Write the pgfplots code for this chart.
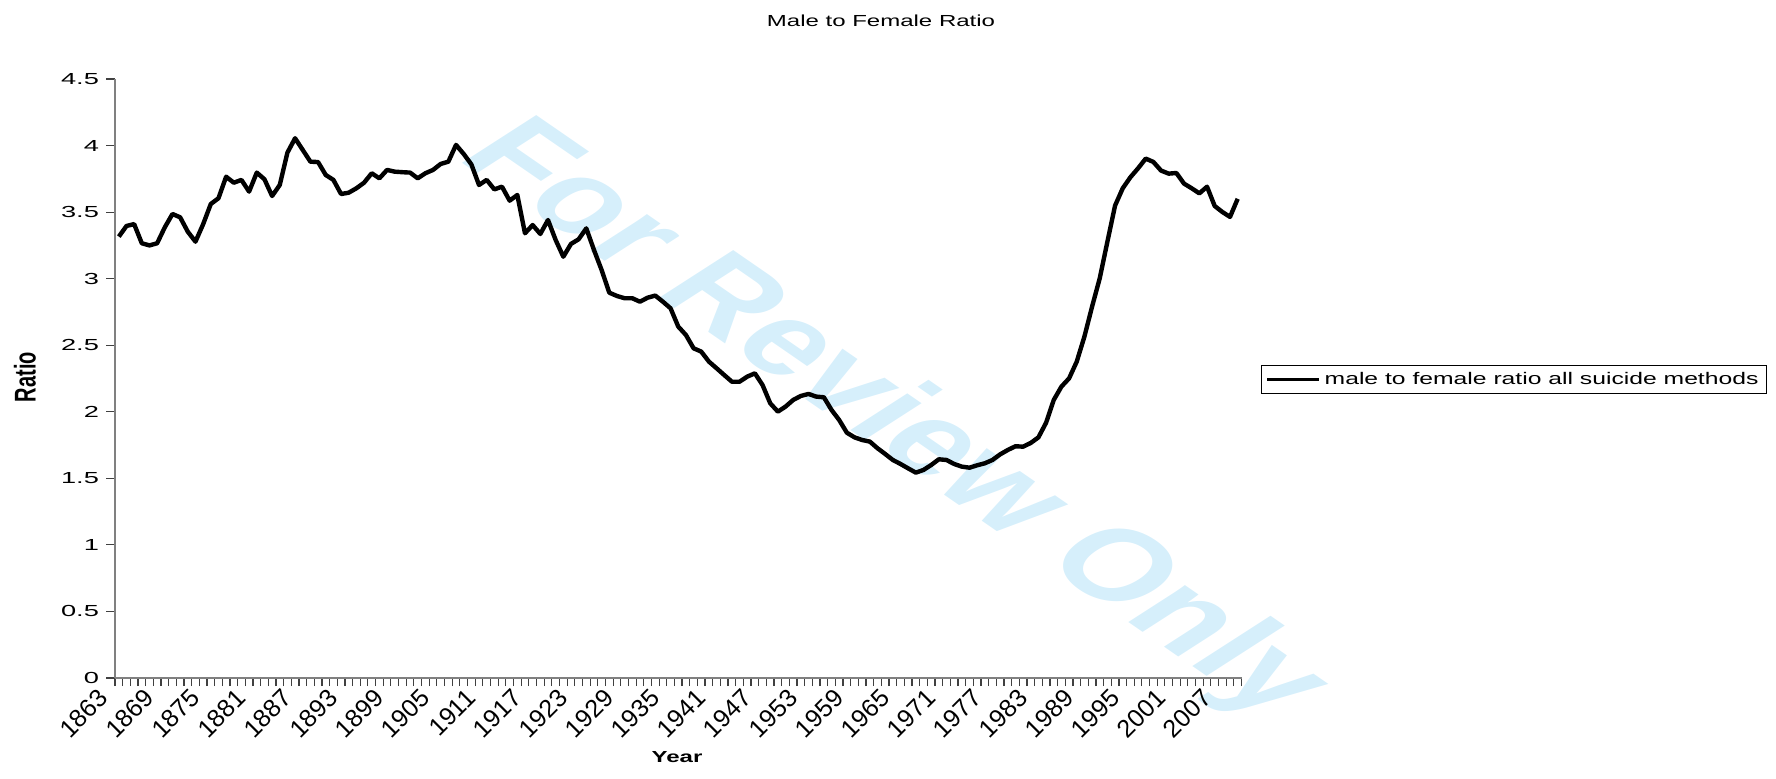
\documentclass[border=0pt]{standalone}
\usepackage{pgfplots}
\pgfplotsset{compat=1.18}
\usepackage{pgfplotstable}
\usepackage{fontspec}
\setmainfont{Liberation Sans}
\definecolor{wmblue}{RGB}{214,239,251}
\definecolor{axgray}{RGB}{128,128,128}
\pgfplotstableread{
year ratio
1863 3.316
1864 3.396
1865 3.410
1866 3.266
1867 3.250
1868 3.266
1869 3.386
1870 3.486
1871 3.461
1872 3.353
1873 3.278
1874 3.409
1875 3.561
1876 3.604
1877 3.766
1878 3.721
1879 3.742
1880 3.654
1881 3.797
1882 3.747
1883 3.621
1884 3.704
1885 3.947
1886 4.055
1887 3.967
1888 3.879
1889 3.876
1890 3.779
1891 3.742
1892 3.636
1893 3.646
1894 3.679
1895 3.721
1896 3.792
1897 3.754
1898 3.817
1899 3.804
1900 3.800
1901 3.797
1902 3.754
1903 3.792
1904 3.817
1905 3.862
1906 3.879
1907 4.005
1908 3.937
1909 3.859
1910 3.704
1911 3.742
1912 3.671
1913 3.691
1914 3.586
1915 3.629
1916 3.341
1917 3.403
1918 3.336
1919 3.441
1920 3.291
1921 3.165
1922 3.261
1923 3.296
1924 3.378
1925 3.216
1926 3.065
1927 2.895
1928 2.870
1929 2.853
1930 2.853
1931 2.827
1932 2.857
1933 2.873
1934 2.827
1935 2.777
1936 2.640
1937 2.577
1938 2.477
1939 2.452
1940 2.377
1941 2.327
1942 2.276
1943 2.226
1944 2.226
1945 2.264
1946 2.289
1947 2.201
1948 2.064
1949 2.001
1950 2.039
1951 2.089
1952 2.119
1953 2.134
1954 2.114
1955 2.109
1956 2.014
1957 1.938
1958 1.843
1959 1.808
1960 1.788
1961 1.776
1962 1.726
1963 1.683
1964 1.638
1965 1.608
1966 1.575
1967 1.543
1968 1.563
1969 1.600
1970 1.643
1971 1.638
1972 1.608
1973 1.588
1974 1.580
1975 1.598
1976 1.613
1977 1.638
1978 1.680
1979 1.713
1980 1.741
1981 1.738
1982 1.766
1983 1.808
1984 1.918
1985 2.089
1986 2.189
1987 2.251
1988 2.377
1989 2.565
1990 2.790
1991 3.003
1992 3.278
1993 3.549
1994 3.679
1995 3.762
1996 3.829
1997 3.902
1998 3.877
1999 3.812
2000 3.789
2001 3.794
2002 3.714
2003 3.679
2004 3.641
2005 3.691
2006 3.546
2007 3.501
2008 3.464
2009 3.600
}\ratiodata

\begin{document}
\begin{tikzpicture}
\begin{scope}[shift={(446pt,178pt)}, xscale=1.5, rotate=-46]
\node[transform shape, text=wmblue, font=\bfseries\fontsize{50}{55}\selectfont, inner sep=0pt] at (0,0) {For Review Only};
\end{scope}
\begin{axis}[
  at={(57.5pt,50pt)}, anchor=south west,
  scale only axis, width=563.25pt, height=299.5pt,
  xmin=1862.5, xmax=2009.5, ymin=0, ymax=4.5,
  axis x line=bottom, axis y line=left,
  axis line style={-, draw=axgray, line width=0.9pt},
  ytick={0,0.5,...,4.5},
  xtick={1863,1869,...,2007},
  major x tick style={draw=none},
  minor xtick={1862.5,1863.5,...,2009.5},
  tick align=outside,
  major tick length=4.5pt, minor tick length=4pt,
  tick style={draw=black!75, line width=0.6pt},
  scaled x ticks=false,
  xticklabel={\pgfmathprintnumber[1000 sep={},fixed,precision=0,assume math mode=true]{\tick}},
  yticklabel={\scalebox{1.7}[1]{\pgfmathprintnumber[assume math mode=true]{\tick}}},
  xticklabel style={xshift=-7.6pt, yshift=-3.2pt, rotate=45, anchor=east, inner sep=0pt, font=\fontsize{12.5}{14}\selectfont},
  yticklabel style={font=\fontsize{8}{9}\selectfont},
  title={\scalebox{1.5}[1]{Male to Female Ratio}},
  title style={at={(axis description cs:0.680,1.078)}, anchor=center, font=\fontsize{8}{9}\selectfont},
  xlabel={\scalebox{1.5}[1]{\bfseries Year}},
  xlabel style={at={(axis description cs:0.4989,-0.1319)}, anchor=center, font=\fontsize{8}{9}\selectfont},
  ylabel={\scalebox{1}[1.5]{\bfseries Ratio}},
  ylabel style={at={(axis description cs:-0.0799,0.5025)}, anchor=center, font=\fontsize{10}{11}\selectfont},
  legend style={at={(axis description cs:1.0173,0.498)}, anchor=west, draw=black, line width=0.5pt,
    inner xsep=2pt, inner ysep=1.2pt, font=\fontsize{8.4}{9}\selectfont},
  legend cell align=left,
  legend image code/.code={\draw[black, line width=1.6pt] (0pt,0pt) -- (26pt,0pt);},
]
\addplot[black, line width=2.2pt, line join=round, mark=none] table[x=year, y=ratio] {\ratiodata};
\addlegendentry{\scalebox{1.47}[1]{male to female ratio all suicide methods}}
\end{axis}
\pgfresetboundingbox
\path[use as bounding box] (0,0) rectangle (888pt,389pt);
\end{tikzpicture}
\end{document}
